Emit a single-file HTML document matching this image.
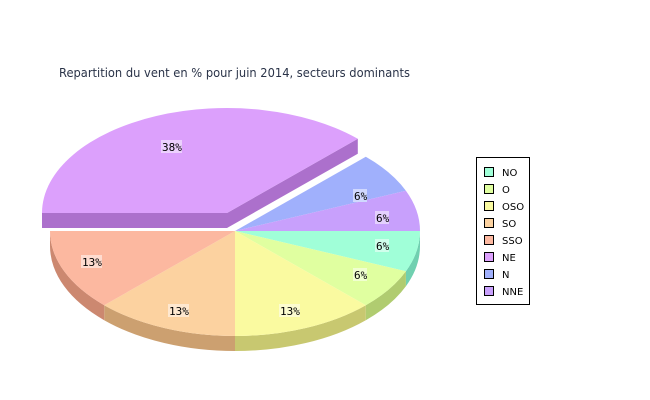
<!DOCTYPE html>
<html><head><meta charset="utf-8"><style>
html,body{margin:0;padding:0;background:#fff;}
svg{display:block}
.t{font-family:"DejaVu Sans","Liberation Sans",sans-serif;font-size:12px;fill:#2a3348}
.l{font-family:"DejaVu Sans Mono","Liberation Mono",monospace;font-size:11px;fill:#000}
.g{font-family:"DejaVu Sans","Liberation Sans",sans-serif;font-size:10px;fill:#000}
</style></head><body>
<svg width="650" height="400" viewBox="0 0 650 400" xmlns="http://www.w3.org/2000/svg">
<rect width="650" height="400" fill="#fff"/>
<text class="t" x="59" y="77" textLength="351" lengthAdjust="spacingAndGlyphs">Repartition du vent en % pour juin 2014, secteurs dominants</text>
<!-- sides -->
<polygon points="42,213 227,213 357.8,138.8 357.8,153.8 227,228 42,228" fill="#ac70cc"/>
<path d="M420,231 A185,105 0 0 1 405.9,271.2 L405.9,286.2 A185,105 0 0 0 420,246 Z" fill="#70d0b0"/>
<path d="M405.9,271.2 A185,105 0 0 1 365.8,305.2 L365.8,320.2 A185,105 0 0 0 405.9,286.2 Z" fill="#b0cc70"/>
<path d="M365.8,305.2 A185,105 0 0 1 235,336 L235,351 A185,105 0 0 0 365.8,320.2 Z" fill="#c8c870"/>
<path d="M235,336 A185,105 0 0 1 104.2,305.2 L104.2,320.2 A185,105 0 0 0 235,351 Z" fill="#cca070"/>
<path d="M104.2,305.2 A185,105 0 0 1 50,231 L50,246 A185,105 0 0 0 104.2,320.2 Z" fill="#cc8870"/>
<!-- tops -->
<path d="M235,231 L420,231 A185,105 0 0 1 405.9,271.2 Z" fill="#a0ffd8"/>
<path d="M235,231 L405.9,271.2 A185,105 0 0 1 365.8,305.2 Z" fill="#e0ffa0"/>
<path d="M235,231 L365.8,305.2 A185,105 0 0 1 235,336 Z" fill="#fafaa0"/>
<path d="M235,231 L235,336 A185,105 0 0 1 104.2,305.2 Z" fill="#fcd2a0"/>
<path d="M235,231 L104.2,305.2 A185,105 0 0 1 50,231 Z" fill="#fcb8a0"/>
<path d="M227,213 L42,213 A185,105 0 0 1 357.8,138.8 Z" fill="#dca0fc"/>
<path d="M235,231 L365.8,156.8 A185,105 0 0 1 405.9,190.8 Z" fill="#a0b0fc"/>
<path d="M235,231 L405.9,190.8 A185,105 0 0 1 420,231 Z" fill="#c8a0fc"/>
<!-- labels -->
<g>
<rect x="161" y="140" width="21" height="13" fill="#ecd0fe"/><text class="l" x="162" y="151">38%</text>
<rect x="353" y="189" width="14" height="13" fill="#d0d8fe"/><text class="l" x="354" y="200">6%</text>
<rect x="375" y="211" width="14" height="13" fill="#e4d0fe"/><text class="l" x="376" y="222">6%</text>
<rect x="375" y="239" width="14" height="13" fill="#d0ffec"/><text class="l" x="376" y="250">6%</text>
<rect x="353" y="268" width="14" height="13" fill="#f0ffd0"/><text class="l" x="354" y="279">6%</text>
<rect x="279" y="304" width="21" height="13" fill="#fcfcd0"/><text class="l" x="280" y="315">13%</text>
<rect x="168" y="304" width="21" height="13" fill="#fee8d0"/><text class="l" x="169" y="315">13%</text>
<rect x="81" y="255" width="21" height="13" fill="#fedcd0"/><text class="l" x="82" y="266">13%</text>
</g>
<!-- legend -->
<rect x="476.5" y="157.5" width="53" height="147" fill="#fff" stroke="#000"/>
<g stroke="#000" stroke-width="1">
<rect x="484.5" y="167.5" width="9" height="9" fill="#a0ffd8"/>
<rect x="484.5" y="184.5" width="9" height="9" fill="#e0ffa0"/>
<rect x="484.5" y="201.5" width="9" height="9" fill="#fafaa0"/>
<rect x="484.5" y="218.5" width="9" height="9" fill="#fcd2a0"/>
<rect x="484.5" y="235.5" width="9" height="9" fill="#fcb8a0"/>
<rect x="484.5" y="252.5" width="9" height="9" fill="#dca0fc"/>
<rect x="484.5" y="269.5" width="9" height="9" fill="#a0b0fc"/>
<rect x="484.5" y="286.5" width="9" height="9" fill="#c8a0fc"/>
</g>
<text class="g" x="502" y="176">NO</text>
<text class="g" x="502" y="193">O</text>
<text class="g" x="502" y="210">OSO</text>
<text class="g" x="502" y="227">SO</text>
<text class="g" x="502" y="244">SSO</text>
<text class="g" x="502" y="261">NE</text>
<text class="g" x="502" y="278">N</text>
<text class="g" x="502" y="295">NNE</text>
</svg>
</body></html>
